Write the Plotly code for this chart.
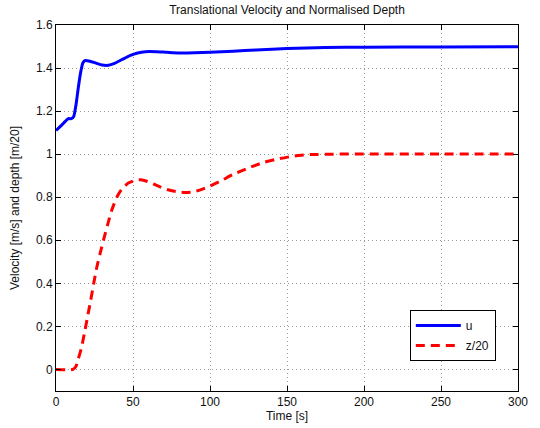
import plotly.graph_objects as go

# ---- data ----
t_u = [0, 3, 6, 8, 10, 11.5, 13, 14.5, 16, 17.5, 19, 22, 26, 30, 34, 38, 43, 48, 53, 58,
       65, 72, 80, 90, 100, 115, 130, 150, 175, 200, 250, 300]
u = [1.11, 1.13, 1.152, 1.165, 1.165, 1.175, 1.23, 1.31, 1.38, 1.425, 1.435, 1.432, 1.423,
     1.414, 1.413, 1.422, 1.44, 1.458, 1.47, 1.476, 1.476, 1.473, 1.470, 1.471, 1.474,
     1.478, 1.484, 1.491, 1.495, 1.497, 1.498, 1.499]

t_z = [0, 11, 13, 14.5, 16.5, 18.5, 20.5, 22.5, 24.5, 26.5, 28.7, 31, 33.5, 36.3, 39.5,
       42.8, 47, 52, 55, 60, 65, 72, 78, 84, 90, 97, 106, 115, 125, 135, 145, 155, 165,
       180, 200, 250, 300]
z20 = [0, 0, 0.015, 0.05, 0.1, 0.17, 0.245, 0.32, 0.4, 0.475, 0.54, 0.605, 0.672, 0.742,
       0.8, 0.838, 0.866, 0.88, 0.881, 0.872, 0.856, 0.836, 0.826, 0.822, 0.826, 0.843,
       0.872, 0.906, 0.936, 0.962, 0.979, 0.992, 0.998, 1.0, 1.001, 1.001, 1.001]

x_ticks = [0, 50, 100, 150, 200, 250, 300]
y_ticks = [0, 0.2, 0.4, 0.6, 0.8, 1, 1.2, 1.4, 1.6]
y_tick_labels = ["0", "0.2", "0.4", "0.6", "0.8", "1", "1.2", "1.4", "1.6"]

title_text = "Translational Velocity and Normalised Depth"
x_title = "Time [s]"
y_title = "Velocity [m/s] and depth [m/20]"

font = "Liberation Sans, Arial, Helvetica, sans-serif"

fig = go.Figure()
fig.add_trace(go.Scatter(x=t_u, y=u, mode="lines", name="u", legendgroup="a",
                         line=dict(color="#0000ff", width=3, shape="spline", smoothing=0.6)))
fig.add_trace(go.Scatter(x=t_z, y=z20, mode="lines", name="z/20", legendgroup="b",
                         line=dict(color="#ff0000", width=3, dash="9px,6px",
                                   shape="spline", smoothing=0.6)))

axis_common = dict(
    showline=True, linecolor="black", linewidth=1, mirror="ticks",
    ticks="inside", ticklen=5, tickcolor="black", tickwidth=1,
    showgrid=True, gridcolor="#9a9a9a", gridwidth=1, griddash="1px,3px",
    zeroline=False, automargin=False,
    tickfont=dict(family=font, size=12, color="#111"),
)

fig.update_layout(
    width=540, height=428,
    margin=dict(l=56, r=22, t=25, b=37),
    paper_bgcolor="white", plot_bgcolor="white",
    font=dict(family=font, size=12, color="#111"),
    title=dict(text=title_text, x=0.5, xref="paper", xanchor="center",
               y=1 - 10 / 428, yanchor="middle", font=dict(size=12, color="#111")),
    xaxis=dict(range=[0, 300], tickvals=x_ticks,
               title=dict(text=x_title, standoff=2, font=dict(size=12)), **axis_common),
    yaxis=dict(range=[-0.1, 1.6], tickvals=y_ticks, ticktext=y_tick_labels,
               title=dict(text=y_title, standoff=13, font=dict(size=12)), **axis_common),
    legend=dict(x=0.952, xanchor="right", y=0.082, yanchor="bottom",
                bgcolor="white", bordercolor="black", borderwidth=1,
                font=dict(size=12, color="#111"), tracegroupgap=1,
                itemwidth=45),
    showlegend=True,
)

fig.write_html("out.html")
